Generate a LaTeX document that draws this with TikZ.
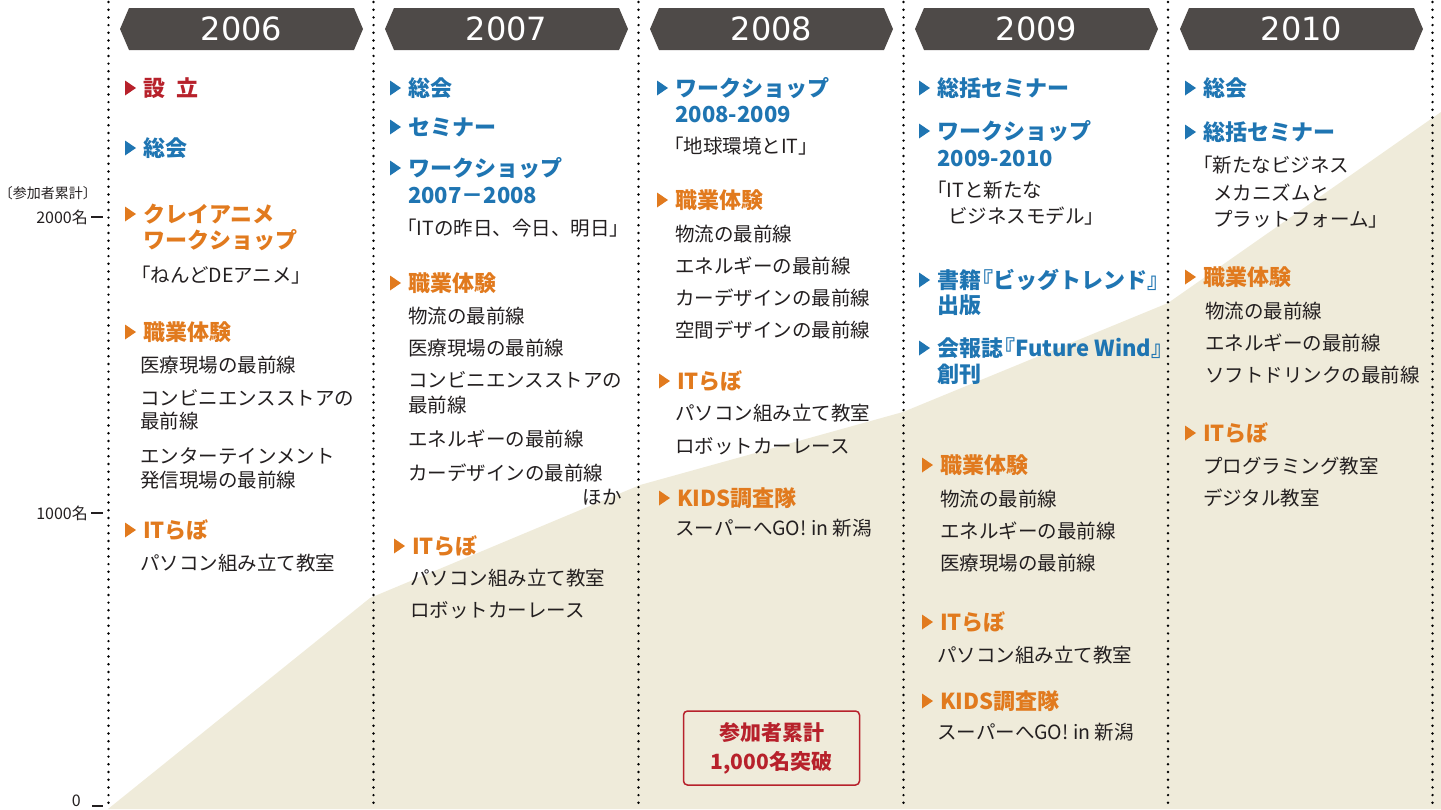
\documentclass[tikz,border=0pt]{standalone}
\usepackage{fontspec}
\setmainfont{Noto Sans CJK JP}
\newfontfamily\yearfont{DejaVu Sans}
\definecolor{areac}{RGB}{239,235,218}
\definecolor{ban}{RGB}{78,74,72}
\definecolor{cblue}{RGB}{31,117,178}
\definecolor{corange}{RGB}{225,122,30}
\definecolor{cred}{RGB}{183,33,43}
\definecolor{ctext}{RGB}{35,31,32}
\tikzset{
  hd/.style={anchor=west, inner sep=0pt, font=\fontsize{22}{24}\selectfont\bfseries},
  bd/.style={anchor=west, inner sep=0pt, font=\fontsize{19.5}{22}\selectfont, text=ctext},
  yr/.style={inner sep=0pt, text=white, font=\yearfont\fontsize{32}{34}\selectfont},
  ax/.style={inner sep=0pt, text=ctext, font=\fontsize{16}{18}\selectfont},
  axl/.style={inner sep=0pt, text=ctext, font=\fontsize{14}{16}\selectfont},
  dotline/.style={line width=2.7pt, dash pattern=on 0pt off 7.7pt, line cap=round, black},
  tickline/.style={line width=1.2pt, ctext},
  boxtxt/.style={inner sep=0pt, text=cred, font=\fontsize{21}{23}\selectfont\bfseries}
}
\newcommand\mhead[5]{\fill[#4] (#2-18,#3-7.5) -- (#2-7,#3) -- (#2-18,#3+7.5) -- cycle;
  \node[hd,text=#4] (#1) at (#2,#3) {#5};}
\newcommand\msub[5]{\node[hd,text=#4] (#1) at (#2,#3) {#5};}
\newcommand\mbody[4]{\node[bd] (#1) at (#2,#3) {#4};}
\newcommand\banner[3]{\fill[ban] (#2,29) -- (#2+9,8) -- (#2+234,8) -- (#2+243,29) -- (#2+234,50) -- (#2+9,50) -- cycle;
  \node[yr] (#1) at (#2+121.5,29) {#3};}
\begin{document}
\begin{tikzpicture}[x=1pt,y=-1pt]
\useasboundingbox (0,0) rectangle (1441,809);
% area
\fill[areac] (108,809) -- (370,598) -- (640,485) -- (903,412) -- (1168,303) -- (1441,112) -- (1441,809) -- cycle;
% dotted dividers
\foreach \x in {108.5,373.5,638.5,903.5,1168,1432.5} \draw[dotline] (\x,2) -- (\x,809);
% axis
\node[axl,anchor=east] (axlab) at (97,193) {〔参加者累計〕};
\node[ax,anchor=east] (ax2000) at (88,217) {2000名};
\node[ax,anchor=east] (ax1000) at (88,513) {1000名};
\node[ax,anchor=east] (ax0) at (81,801) {0};
\coordinate (t2a) at (91,217); \coordinate (t2b) at (103,217);
\coordinate (t1a) at (91,513); \coordinate (t1b) at (103,513);
\coordinate (t0a) at (92,806); \coordinate (t0b) at (103,806);
\draw[tickline] (t2a) -- (t2b);
\draw[tickline] (t1a) -- (t1b);
\draw[tickline] (t0a) -- (t0b);
% banners
\banner{y06}{120}{2006}
\banner{y07}{385}{2007}
\banner{y08}{650}{2008}
\banner{y09}{915}{2009}
\banner{y10}{1180}{2010}
% 2006
\mhead{a1}{143}{88}{cred}{設\hspace{0.5em}立}
\mhead{a2}{143}{148}{cblue}{総会}
\mhead{a3}{143}{214}{corange}{クレイアニメ}
\msub{a3b}{143}{240}{corange}{ワークショップ}
\mbody{a4}{131}{275}{「ねんどDEアニメ」}
\mhead{a5}{143}{332}{corange}{職業体験}
\mbody{a6}{140}{365}{医療現場の最前線}
\mbody{a7}{140}{398}{コンビニエンスストアの}
\mbody{a8}{140}{421}{最前線}
\mbody{a9}{140}{456}{エンターテインメント}
\mbody{a10}{140}{480}{発信現場の最前線}
\mhead{a11}{143}{530}{corange}{ITらぼ}
\mbody{a12}{140}{563}{パソコン組み立て教室}
% 2007
\mhead{b1}{408}{88}{cblue}{総会}
\mhead{b2}{408}{127}{cblue}{セミナー}
\mhead{b3}{408}{168}{cblue}{ワークショップ}
\msub{b3b}{408}{196}{cblue}{2007－2008}
\mbody{b4}{397}{228}{「ITの昨日、今日、明日」}
\mhead{b5}{408}{283}{corange}{職業体験}
\mbody{b6}{408}{316}{物流の最前線}
\mbody{b7}{408}{348}{医療現場の最前線}
\mbody{b8}{408}{380}{コンビニエンスストアの}
\mbody{b9}{408}{405}{最前線}
\mbody{b10}{408}{439}{エネルギーの最前線}
\mbody{b11}{408}{473}{カーデザインの最前線}
\node[bd,anchor=east] (b12) at (622,497) {ほか};
\mhead{b13}{412}{546}{corange}{ITらぼ}
\mbody{b14}{410}{578}{パソコン組み立て教室}
\mbody{b15}{410}{610}{ロボットカーレース}
% 2008
\mhead{c1}{675}{88}{cblue}{ワークショップ}
\msub{c1b}{675}{115}{cblue}{2008-2009}
\mbody{c2}{664}{146}{「地球環境とIT」}
\mhead{c3}{675}{200}{corange}{職業体験}
\mbody{c4}{675}{234}{物流の最前線}
\mbody{c5}{675}{266}{エネルギーの最前線}
\mbody{c6}{675}{298}{カーデザインの最前線}
\mbody{c7}{675}{330}{空間デザインの最前線}
\mhead{c8}{677}{381}{corange}{ITらぼ}
\mbody{c9}{675}{413}{パソコン組み立て教室}
\mbody{c10}{675}{446}{ロボットカーレース}
\mhead{c11}{677}{498}{corange}{KIDS調査隊}
\mbody{c12}{675}{528}{スーパーへGO! in 新潟}
\node[draw=cred, line width=1.5pt, rounded corners=4pt, minimum width=176pt, minimum height=74pt, inner sep=0pt] (box) at (771.5,748) {};
\node[boxtxt] (boxa) at (771.5,733) {参加者累計};
\node[boxtxt] (boxb) at (771.5,763) {1,000名突破};
% 2009
\mhead{d1}{937}{88}{cblue}{総括セミナー}
\mhead{d2}{937}{131}{cblue}{ワークショップ}
\msub{d2b}{937}{159}{cblue}{2009-2010}
\mbody{d3}{927}{190}{「ITと新たな}
\mbody{d4}{948}{216}{ビジネスモデル」}
\mhead{d5}{937}{280}{cblue}{書籍\hspace{-0.45em}『ビッグトレンド』}
\msub{d5b}{937}{305}{cblue}{出版}
\mhead{d6}{937}{348}{cblue}{会報誌\hspace{-0.45em}『Future Wind』}
\msub{d6b}{937}{374}{cblue}{創刊}
\mhead{d7}{940}{465}{corange}{職業体験}
\mbody{d8}{940}{499}{物流の最前線}
\mbody{d9}{940}{531}{エネルギーの最前線}
\mbody{d10}{940}{563}{医療現場の最前線}
\mhead{d11}{940}{622}{corange}{ITらぼ}
\mbody{d12}{937}{655}{パソコン組み立て教室}
\mhead{d13}{940}{701}{corange}{KIDS調査隊}
\mbody{d14}{937}{732}{スーパーへGO! in 新潟}
% 2010
\mhead{e1}{1203}{88}{cblue}{総会}
\mhead{e2}{1203}{132}{cblue}{総括セミナー}
\mbody{e3}{1193}{165}{「新たなビジネス}
\mbody{e4}{1213}{193}{メカニズムと}
\mbody{e5}{1213}{219}{プラットフォーム」}
\mhead{e6}{1203}{277}{corange}{職業体験}
\mbody{e7}{1205}{311}{物流の最前線}
\mbody{e8}{1205}{343}{エネルギーの最前線}
\mbody{e9}{1205}{375}{ソフトドリンクの最前線}
\mhead{e10}{1203}{433}{corange}{ITらぼ}
\mbody{e11}{1203}{466}{プログラミング教室}
\mbody{e12}{1203}{498}{デジタル教室}
\end{tikzpicture}
\end{document}
